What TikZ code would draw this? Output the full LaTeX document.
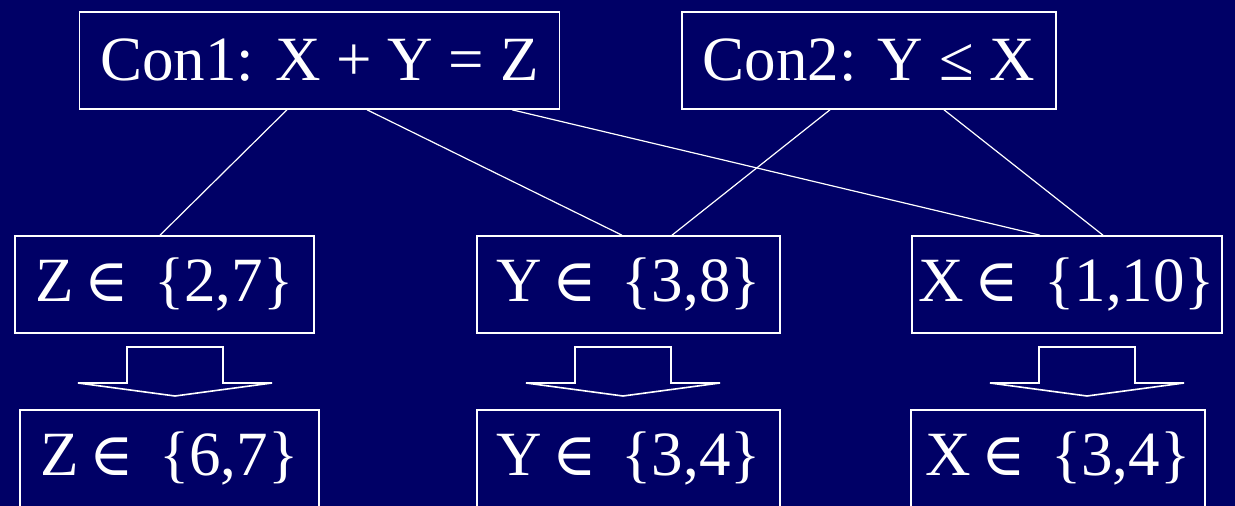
\documentclass[tikz,border=0pt]{standalone}
\usepackage{fontspec}
\setmainfont{Liberation Serif}
\newfontfamily\symfont{DejaVu Serif}
\usepackage{tikz}
\usetikzlibrary{positioning}
\definecolor{navy}{HTML}{000066}
\newcommand\isin{\,{\symfont\fontsize{60}{64}\selectfont ∈}\hspace{0.4em}}

\begin{document}
\begin{tikzpicture}[x=1pt,y=-1pt,box/.style={rectangle,draw=white,line width=1.6pt,minimum height=97pt,inner sep=0pt,text=white,font=\fontsize{63}{66}\selectfont},link/.style={draw=white,line width=1.2pt},bigarrow/.style={draw=white,line width=1.6pt,line join=miter}]
\useasboundingbox (0,0) rectangle (1235,506);
\fill[navy] (0,0) rectangle (1235,506);
\clip (0,0) rectangle (1235,506);
\node[box,minimum width=480pt] (con1) at (319.5,60.5) {Con1: X + Y = Z};
\node[box,minimum width=374pt] (con2) at (869,60.5) {Con2: Y ≤ X};
\node[box,minimum width=299pt] (zd) at (164.5,284.5) {Z\isin\{2,7\}};
\node[box,minimum width=303pt] (yd) at (628.5,284.5) {Y\isin\{3,8\}};
\node[box,minimum width=310pt] (xd) at (1067,284.5) {X\isin\{1,10\}};
\node[box,minimum width=299pt] (zn) at (169.5,458.5) {Z\isin\{6,7\}};
\node[box,minimum width=303pt] (yn) at (628.5,458.5) {Y\isin\{3,4\}};
\node[box,minimum width=294pt] (xn) at (1058,458.5) {X\isin\{3,4\}};
% constraint links
\draw[link] (287,0 |- con1.south) -- (160,0 |- zd.north);
\draw[link] (367,0 |- con1.south) -- (622,0 |- yd.north);
\draw[link] (512,0 |- con1.south) -- (1040,0 |- xd.north);
\draw[link] (830,0 |- con2.south) -- (672,0 |- yd.north);
\draw[link] (944,0 |- con2.south) -- (1103,0 |- xd.north);
% narrowing arrows
\foreach \cx in {175,623,1087}
  \draw[bigarrow] (\cx-48,347) -- (\cx-48,383) -- (\cx-97,383) -- (\cx,396)
    -- (\cx+97,383) -- (\cx+48,383) -- (\cx+48,347) -- cycle;
\end{tikzpicture}
\end{document}
